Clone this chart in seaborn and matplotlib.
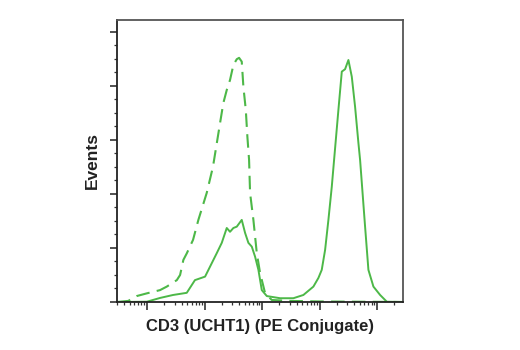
import numpy as np
import pandas as pd
import matplotlib
matplotlib.use("Agg")
import matplotlib.pyplot as plt
import seaborn as sns
from matplotlib.ticker import LogLocator, MultipleLocator, NullFormatter

# Isotype control (dashed)
iso_x = [3.0, 4.7, 6.6, 9.9, 16.8, 22, 32.9, 37.5, 42.8, 49, 63, 78, 109, 140, 186, 212,
         243, 277, 317, 363, 398, 443, 473, 521, 555, 594, 618, 706, 809, 923, 1127, 1475,
         3070, 10200, 50000, 282000]
iso_y = [0, 0.4, 2.2, 3.2, 4.4, 5.7, 8.1, 10, 15.6, 18, 23, 30.4, 40.4, 50.1, 66.3, 73.7,
         78.5, 82.2, 87.8, 89.9, 90.4, 89, 79.7, 71.1, 61.2, 52.6, 40.4, 30.4, 18.1, 10.7, 3.3, 0.74,
         0.4, 0.2, 0.1, 0]

# CD3 (UCHT1) PE stained (solid)
cd3_x = [3.0, 9.9, 16.8, 28.3, 49, 68, 102, 163, 199, 243, 277, 317, 363, 443, 506, 578,
         662, 755, 863, 988, 1208, 2056, 3500, 5225, 7800, 9530, 10900, 12470, 14230, 16290,
         17860, 21230, 24320, 27740, 31700, 36300, 41400, 47300, 50600, 61800, 70600, 86300,
         112800, 147600, 282000]
cd3_y = [0, 0.1, 1.5, 2.6, 3.4, 8.1, 9.4, 18.1, 21.9, 27.4, 26, 27.4, 27.9, 30.4, 25.6, 21.9,
         20.5, 16.8, 11.9, 4.4, 2.2, 1.4, 1.4, 2.6, 5.7, 8.9, 11.9, 19.3, 30.4, 42.7,
         52.6, 71.1, 85.3, 86.2, 89.6, 83.4, 72.3, 58.9, 52.6, 27.9, 11.9, 5.7,
         2.6, 0.1, 0]

x_label = "CD3 (UCHT1) (PE Conjugate)"
y_label = "Events"

sns.set_style("ticks")
plt.rcParams['font.family'] = ['Liberation Sans', 'DejaVu Sans']

fig = plt.figure(figsize=(5.2, 3.5), dpi=100)
ax = fig.add_axes([117/520, 48/350, (403-117)/520, (302-19.5)/350])
ax.set_xscale('log')

green = '#4DB848'
iso = pd.DataFrame({'x': iso_x, 'y': iso_y})
cd3 = pd.DataFrame({'x': cd3_x, 'y': cd3_y})
sns.lineplot(data=iso, x='x', y='y', ax=ax, color=green, lw=1.5, sort=False,
             dashes=False, linestyle=(0, (6.5, 3.5)))
sns.lineplot(data=cd3, x='x', y='y', ax=ax, color=green, lw=1.4, sort=False)

ax.set_xlim(3.0, 282000)
ax.set_ylim(0, 104.6)
ax.xaxis.set_major_locator(LogLocator(base=10, numticks=20))
ax.xaxis.set_minor_locator(LogLocator(base=10, subs=np.arange(2, 10), numticks=20))
ax.xaxis.set_major_formatter(NullFormatter())
ax.xaxis.set_minor_formatter(NullFormatter())
ax.yaxis.set_major_locator(MultipleLocator(20))
ax.yaxis.set_minor_locator(MultipleLocator(5))
ax.yaxis.set_major_formatter(NullFormatter())

ax.tick_params(axis='x', which='major', length=6, width=1.2, color='#333333', direction='out')
ax.tick_params(axis='y', which='major', length=5, width=1.2, color='#333333', direction='out')
ax.tick_params(axis='both', which='minor', length=2.5, width=0.9, color='#333333', direction='out')

for s in ['left', 'bottom']:
    ax.spines[s].set_color('#222222')
    ax.spines[s].set_linewidth(1.3)
for s in ['top', 'right']:
    ax.spines[s].set_color('#555555')
    ax.spines[s].set_linewidth(1.3)
    ax.spines[s].set_visible(True)

ax.set_xlabel(x_label, fontsize=12, fontweight='bold', color='#222222', labelpad=3)
ax.set_ylabel(y_label, fontsize=12.5, fontweight='bold', color='#222222', labelpad=4)

fig.savefig('out.png', dpi=100)
